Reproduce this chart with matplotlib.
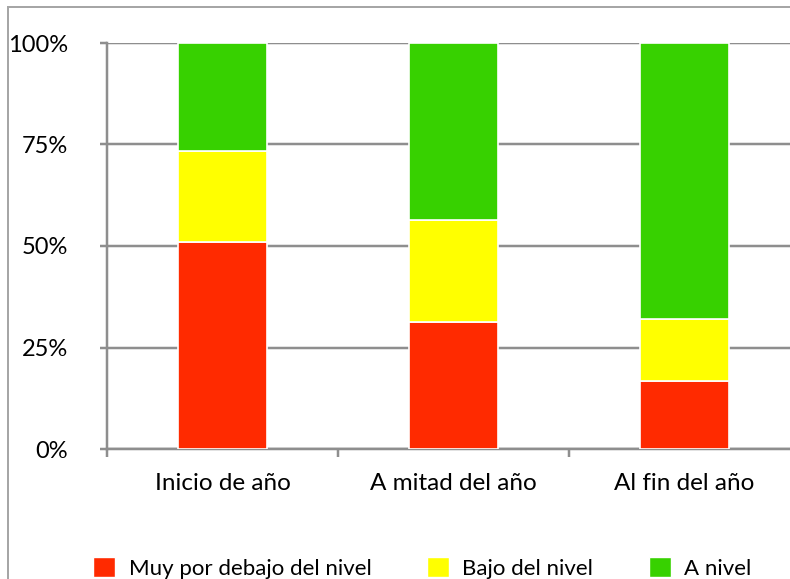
import matplotlib.pyplot as plt
from matplotlib.lines import Line2D
from matplotlib.patches import Patch

plt.rcParams['font.family'] = ['Lato', 'DejaVu Sans']

categories = ["Inicio de año", "A mitad del año", "Al fin del año"]
series_names = ["Muy por debajo del nivel", "Bajo del nivel", "A nivel"]
muy_bajo = [51.0, 31.3, 16.7]
bajo = [22.4, 25.1, 15.3]
a_nivel = [26.6, 43.6, 68.0]
colors = ["#FF2A00", "#FFFF00", "#37D100"]

GRAY = "#8e8e8e"
FRAME = "#a6a6a6"
PX = 0.72  # points per pixel at dpi 100

fig = plt.figure(figsize=(7.9, 5.79), dpi=100)
ax = fig.add_axes([107 / 790, 1 - 449 / 579, 693 / 790, 406 / 579])

x = list(range(len(categories)))
bottom = [0.0] * len(categories)
for vals, name, col in zip([muy_bajo, bajo, a_nivel], series_names, colors):
    ax.bar(x, vals, width=0.385, bottom=bottom, color=col, edgecolor="white",
           linewidth=1.2, label=name, zorder=3)
    bottom = [b + v for b, v in zip(bottom, vals)]

ax.set_xlim(-0.5, 2.5)
ax.set_ylim(0, 100)
ax.set_yticks([0, 25, 50, 75, 100])
ax.set_yticklabels(["0%", "25%", "50%", "75%", "100%"])
ax.yaxis.grid(True, color=GRAY, linewidth=2.5 * PX, zorder=0)
ax.set_xticks(x)
ax.set_xticklabels(categories)
ax.tick_params(axis="x", length=0, labelsize=17.5, pad=24 * PX)
ax.tick_params(axis="y", length=7 * PX, width=2.5 * PX, color=GRAY,
               labelsize=17, pad=32 * PX)
# category boundary ticks
ax.set_xticks([-0.5, 0.5, 1.5, 2.5], minor=True)
ax.tick_params(axis="x", which="minor", length=8 * PX, width=2.5 * PX, color=GRAY)

for s in ["top", "right"]:
    ax.spines[s].set_visible(False)
for s in ["left", "bottom"]:
    ax.spines[s].set_color(GRAY)
    ax.spines[s].set_linewidth(2.5 * PX)
ax.spines["left"].set_zorder(4)

# outer chart frame
fig.add_artist(Line2D([8 / 790, 8 / 790], [0, 1 - 7 / 579], color=FRAME, linewidth=2 * PX))
fig.add_artist(Line2D([8 / 790, 1], [1 - 7 / 579, 1 - 7 / 579], color=FRAME, linewidth=2 * PX))

handles = [Patch(facecolor=c, edgecolor="white") for c in colors]
fig.legend(handles, series_names, loc="upper left", ncol=3,
           bbox_to_anchor=(93 / 790, 1 - 557 / 579), frameon=False,
           fontsize=16, handlelength=1.0, handleheight=1.0,
           handletextpad=0.6, columnspacing=2.5, borderpad=0, borderaxespad=0)

fig.savefig("out.png", dpi=100)
